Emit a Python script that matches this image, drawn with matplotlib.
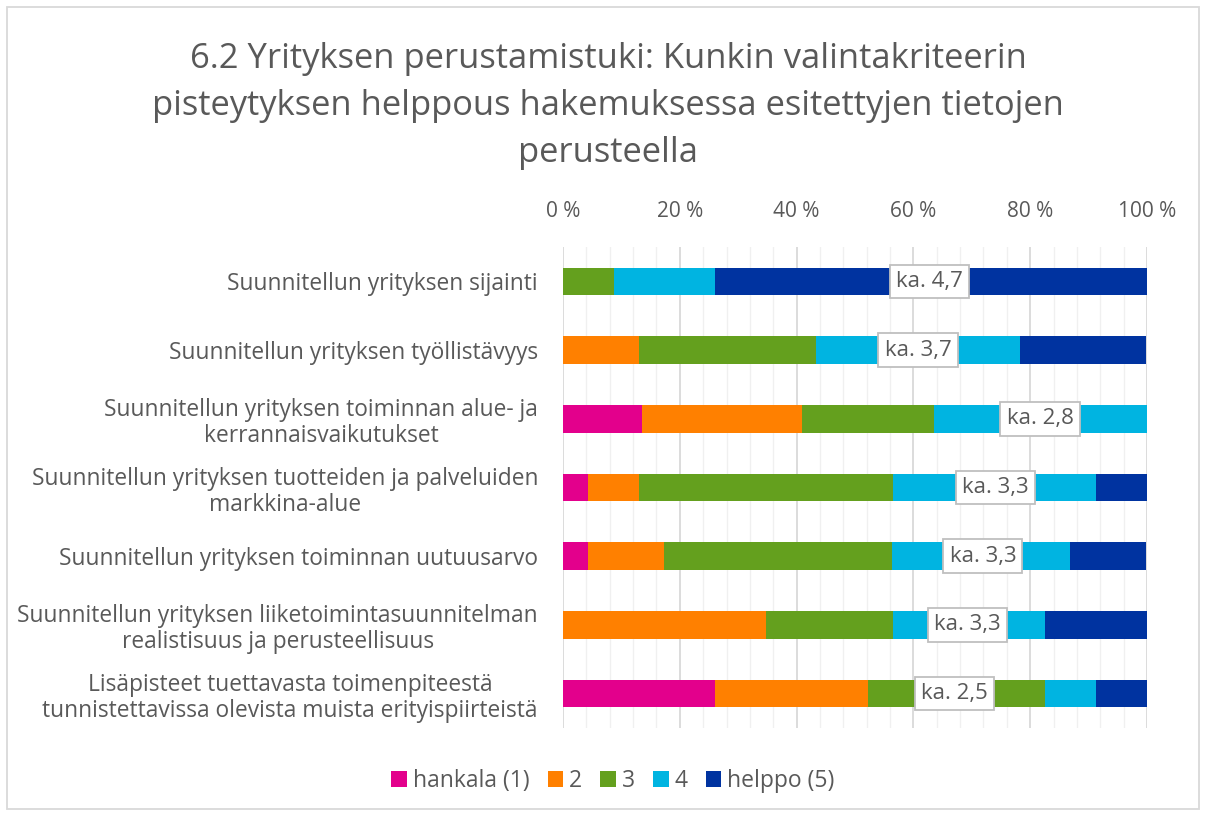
import matplotlib
matplotlib.use("Agg")
import matplotlib.pyplot as plt
import numpy as np
from matplotlib.ticker import MultipleLocator, FuncFormatter
from matplotlib.patches import Rectangle

plt.rcParams['font.family'] = ['Open Sans', 'DejaVu Sans']

categories = [
    "Suunnitellun yrityksen sijainti",
    "Suunnitellun yrityksen työllistävyys",
    "Suunnitellun yrityksen toiminnan alue- ja\nkerrannaisvaikutukset",
    "Suunnitellun yrityksen tuotteiden ja palveluiden\nmarkkina-alue",
    "Suunnitellun yrityksen toiminnan uutuusarvo",
    "Suunnitellun yrityksen liiketoimintasuunnitelman\nrealistisuus ja perusteellisuus",
    "Lisäpisteet tuettavasta toimenpiteestä\ntunnistettavissa olevista muista erityispiirteistä",
]
series_names = ["hankala (1)", "2", "3", "4", "helppo (5)"]
hankala = [0.0, 0.0, 13.6, 4.3, 4.3, 0.0, 26.1]
s2 = [0.0, 13.0, 27.3, 8.7, 13.0, 34.8, 26.1]
s3 = [8.7, 30.4, 22.7, 43.5, 39.1, 21.7, 30.4]
s4 = [17.4, 34.8, 36.4, 34.8, 30.4, 26.1, 8.7]
helppo = [73.9, 21.7, 0.0, 8.7, 13.0, 17.4, 8.7]
averages = ["ka. 4,7", "ka. 3,7", "ka. 2,8", "ka. 3,3", "ka. 3,3", "ka. 3,3", "ka. 2,5"]
label_pos = [62.8, 60.8, 81.7, 74.0, 71.9, 69.3, 67.1]

colors = ["#E3008C", "#FF8000", "#64A01E", "#00B4E1", "#0033A0"]
text_color = "#595959"

fig = plt.figure(figsize=(12.06, 8.16), dpi=100)
W, H = 1206, 816
x0, x1 = 563, 1147
y0, y1 = 247, 728
ax = fig.add_axes([x0 / W, 1 - y1 / H, (x1 - x0) / W, (y1 - y0) / H])

n = len(categories)
y = np.arange(n)
left = np.zeros(n)
for vals, name, c in zip([hankala, s2, s3, s4, helppo], series_names, colors):
    ax.barh(y, vals, left=left, height=0.4, color=c, label=name, zorder=3)
    left += np.array(vals)

for i, (txt, xp) in enumerate(zip(averages, label_pos)):
    ax.text(xp, i, txt, ha='center', va='center', fontsize=16, color=text_color, zorder=5,
            bbox=dict(boxstyle='square,pad=0.28', facecolor='white', edgecolor='#BFBFBF', linewidth=1.3))

ax.set_xlim(0, 100)
ax.set_ylim(n - 0.5, -0.5)
ax.xaxis.set_major_locator(MultipleLocator(20))
ax.xaxis.set_minor_locator(MultipleLocator(4))
ax.xaxis.set_major_formatter(FuncFormatter(lambda v, p: f"{int(v)} %"))
ax.xaxis.tick_top()
ax.tick_params(axis='x', which='both', length=0, labelsize=15, labelcolor=text_color, pad=18)
ax.tick_params(axis='y', length=0, labelsize=16.4, labelcolor=text_color, pad=18)
ax.set_yticks(y)
ax.set_yticklabels(categories, linespacing=1.12)
for lab in ax.get_yticklabels():
    lab.set_horizontalalignment('right')
    lab.set_multialignment('center')
ax.grid(axis='x', which='major', color='#D9D9D9', linewidth=1.3, zorder=0)
ax.grid(axis='x', which='minor', color='#F0F0F0', linewidth=1.0, zorder=0)
for s in ax.spines.values():
    s.set_visible(False)

fig.text(608 / W, 1 - 106 / H,
         "6.2 Yrityksen perustamistuki: Kunkin valintakriteerin\npisteytyksen helppous hakemuksessa esitettyjen tietojen\nperusteella",
         ha='center', va='center', fontsize=24.8, color=text_color, linespacing=1.5)

handles, labels = ax.get_legend_handles_labels()
fig.legend(handles, labels, loc='center', bbox_to_anchor=(613 / W, 1 - 781 / H), ncol=5, frameon=False,
           fontsize=16.5, labelcolor=text_color, handlelength=0.68, handleheight=0.68,
           handletextpad=0.25, columnspacing=0.8)

fig.patches.append(Rectangle((7 / W, 7 / H), (1199 - 7) / W, (809 - 7) / H, transform=fig.transFigure,
                             fill=False, edgecolor='#D9D9D9', linewidth=1.3))

fig.savefig("out.png", dpi=100)
